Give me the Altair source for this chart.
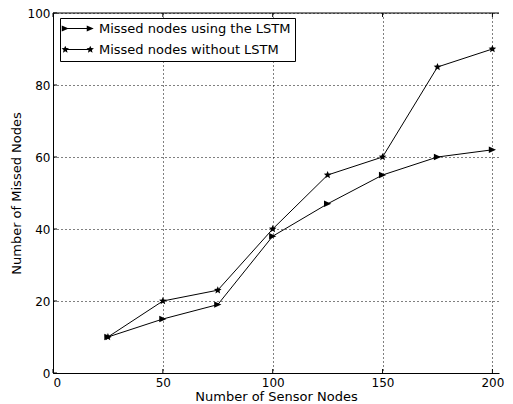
import math
import altair as alt
import pandas as pd

x_nodes = [25, 50, 75, 100, 125, 150, 175, 200]
lstm = [10, 15, 19, 38, 47, 55, 60, 62]
no_lstm = [10, 20, 23, 40, 55, 60, 85, 90]
series_names = ["Missed nodes using the LSTM", "Missed nodes without LSTM"]
x_ticks = [0, 50, 100, 150, 200]
y_ticks = [0, 20, 40, 60, 80, 100]

W = 446
H = 360
X_MAX = 203
FONT = "DejaVu Sans"

df = pd.DataFrame({
    "n": x_nodes + x_nodes,
    "missed": lstm + no_lstm,
    "series": [series_names[0]] * len(x_nodes) + [series_names[1]] * len(x_nodes),
})


def tri(cx, hw, hh):
    return f"M{cx-hw:.3f},{-hh:.3f}L{cx+hw:.3f},0L{cx-hw:.3f},{hh:.3f}Z"


def star(cx, r, ri):
    pts = []
    for k in range(10):
        rr = r if k % 2 == 0 else ri
        a = -math.pi / 2 + k * math.pi / 5
        pts.append(f"{cx + rr*math.cos(a):.3f},{rr*math.sin(a):.3f}")
    return "M" + "L".join(pts) + "Z"


# plot markers (unit = 4 px with size 64)
marker_tri = tri(0, 0.9, 0.8)
marker_star = star(0, 1.0, 0.45)

# legend symbols (unit = 6.25 px with size 156): line with a marker at each end
L0, L1 = -0.84, 3.16
line_path = f"M{L0},-0.08L{L1},-0.08L{L1},0.08L{L0},0.08Z"
path_lstm = line_path + tri(L0, 0.56, 0.5) + tri(L1, 0.56, 0.5)
path_star = line_path + star(L0, 0.62, 0.28) + star(L1, 0.62, 0.28)

x_scale = alt.Scale(domain=[0, X_MAX], nice=False, zero=False)
y_scale = alt.Scale(domain=[0, 100], nice=False)

x_axis = alt.Axis(values=x_ticks, title="Number of Sensor Nodes", tickSize=0,
                  labelPadding=4, titlePadding=2, format="d", orient="bottom")
y_axis = alt.Axis(values=y_ticks, title="Number of Missed Nodes", tickSize=0,
                  labelPadding=3, titlePadding=4, format="d", orient="left")

lines = alt.Chart(df).mark_line(color="black", strokeWidth=1).encode(
    x=alt.X("n:Q", scale=x_scale, axis=x_axis),
    y=alt.Y("missed:Q", scale=y_scale, axis=y_axis),
    detail="series:N",
)
points = alt.Chart(df).mark_point(filled=True, color="black", opacity=1, size=64).encode(
    x=alt.X("n:Q", scale=x_scale, axis=x_axis),
    y=alt.Y("missed:Q", scale=y_scale, axis=y_axis),
    shape=alt.Shape(
        "series:N",
        scale=alt.Scale(domain=series_names, range=[marker_tri, marker_star]),
        legend=None,
    ),
)
legend_df = pd.DataFrame({"series": series_names})
legend_layer = alt.Chart(legend_df).mark_point(
    filled=True, color="black", opacity=0
).encode(
    shape=alt.Shape(
        "series:N",
        scale=alt.Scale(domain=series_names, range=[path_lstm, path_star]),
        legend=alt.Legend(
            title=None, orient="none", legendX=7, legendY=5,
            strokeColor="black", fillColor="white", padding=4, cornerRadius=0,
            symbolSize=156, symbolStrokeWidth=0, symbolFillColor="black",
            symbolStrokeColor="black", symbolOpacity=1, rowPadding=7,
            labelOffset=22, labelFont=FONT, labelFontSize=13,
            labelColor="black", labelLimit=400,
        ),
    ),
)

# top frame line (right edge lies beyond the picture)
frame_df = pd.DataFrame({"top": [y_ticks[-1]], "x0": [0], "x1": [X_MAX]})
top_frame = alt.Chart(frame_df).mark_rule(color="black", strokeWidth=1).encode(
    x=alt.X("x0:Q", scale=x_scale, axis=x_axis), x2="x1:Q",
    y=alt.Y("top:Q", scale=y_scale, axis=y_axis))

# inward tick marks
xt = pd.DataFrame({"t": x_ticks, "a": [0] * len(x_ticks)})
yt = pd.DataFrame({"t": y_ticks, "a": [0] * len(y_ticks)})
tk = 4.0
dy = tk / H * 100
dx = tk / W * X_MAX
xt_bot = alt.Chart(xt).transform_calculate(b=f"{dy}").mark_rule(color="black").encode(
    x=alt.X("t:Q", scale=x_scale, axis=x_axis),
    y=alt.Y("a:Q", scale=y_scale, axis=y_axis), y2="b:Q")
xt_top = alt.Chart(xt).transform_calculate(a2="100", b=f"{100 - dy}").mark_rule(color="black").encode(
    x=alt.X("t:Q", scale=x_scale, axis=x_axis),
    y=alt.Y("a2:Q", scale=y_scale, axis=y_axis), y2="b:Q")
yt_left = alt.Chart(yt).transform_calculate(b=f"{dx}").mark_rule(color="black").encode(
    y=alt.Y("t:Q", scale=y_scale, axis=y_axis),
    x=alt.X("a:Q", scale=x_scale, axis=x_axis), x2="b:Q")

chart = alt.layer(top_frame, lines, xt_bot, xt_top, yt_left, points, legend_layer).resolve_scale(
    shape="independent"
).resolve_legend(shape="independent").properties(
    width=W, height=H,
    autosize=alt.AutoSizeParams(type="none"),
    padding={"left": 45, "top": 5, "right": 6, "bottom": 31},
).configure_view(stroke=None).configure_axis(
    domainColor="black", domainWidth=1, labelColor="black", titleColor="black",
    labelFont=FONT, titleFont=FONT, labelFontSize=12, titleFontSize=13,
    titleFontWeight="normal", grid=True, gridColor="black",
    gridDash=[1, 3], gridOpacity=1, gridWidth=1,
)

chart.save("out.html", embed_options={"renderer": "svg", "actions": False})
